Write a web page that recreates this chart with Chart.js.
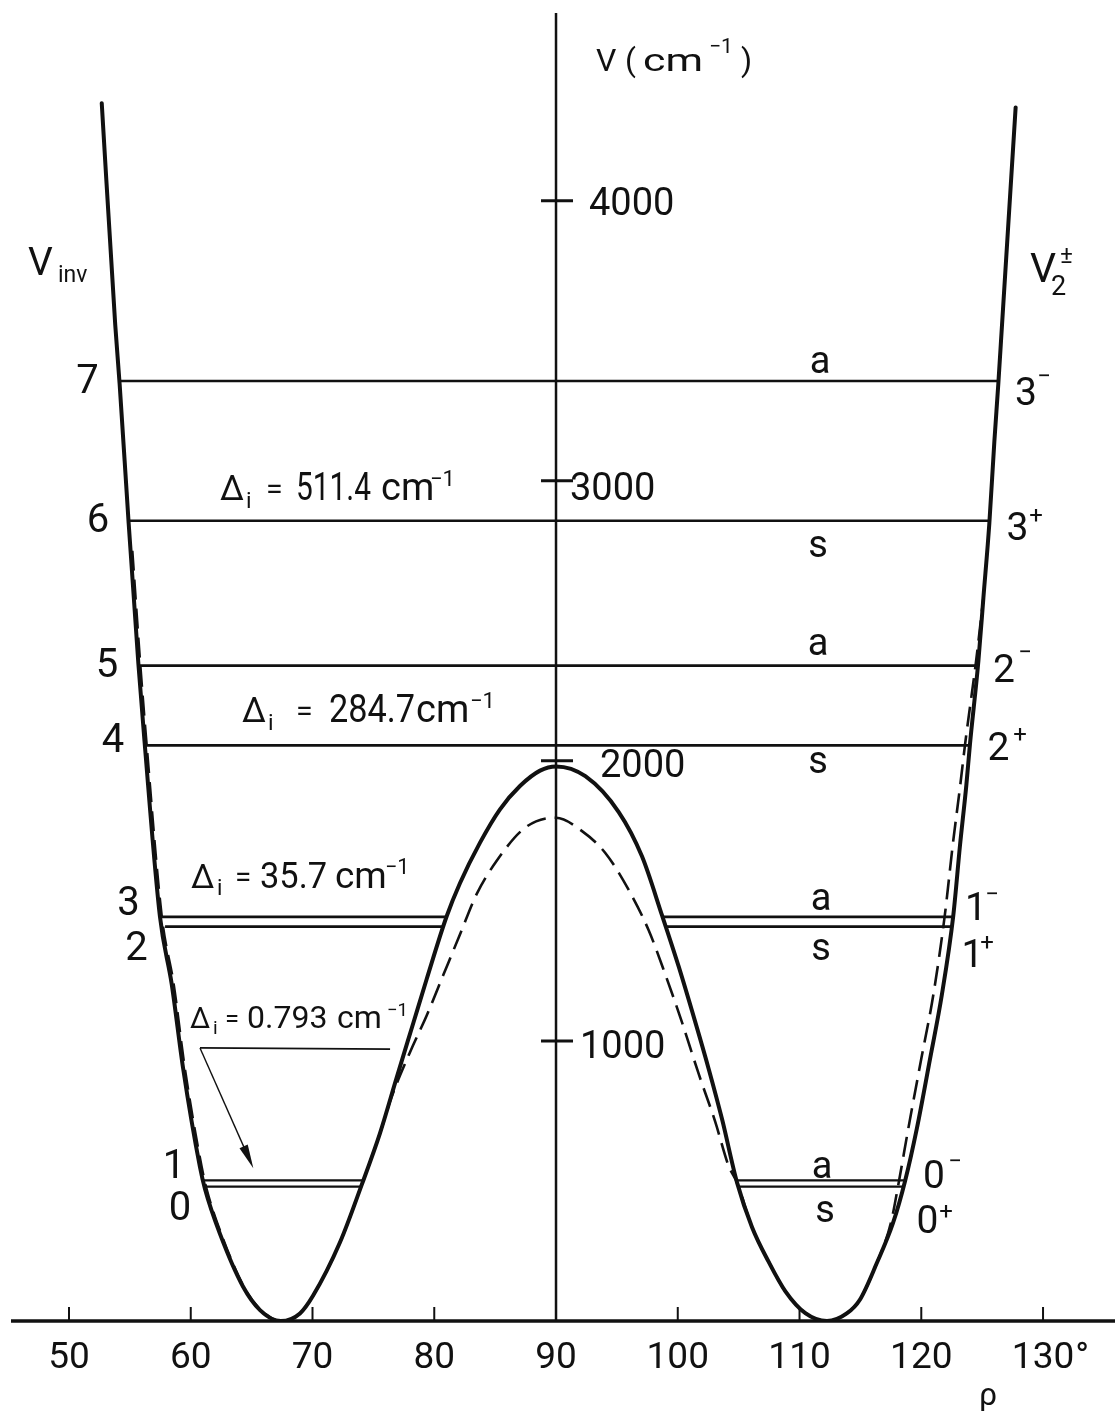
<!DOCTYPE html>
<html>
<head>
<meta charset="utf-8">
<title>Inversion potential V(rho)</title>
<script src="https://cdn.jsdelivr.net/npm/chart.js@4.4.1/dist/chart.umd.min.js"></script>
<style>
  html, body { margin: 0; padding: 0; background: #fff; }
  #wrap { position: relative; width: 1115px; height: 1414px; }
</style>
</head>
<body>
<div id="wrap"><canvas id="chart"></canvas></div>
<script>
// axes
const xTicks = [50, 60, 70, 80, 90, 100, 110, 120, 130];
const xTickLabels = ["50", "60", "70", "80", "90", "100", "110", "120", "130°"];
const yTicks = [1000, 2000, 3000, 4000];
const yTickLabels = ["1000", "2000", "3000", "4000"];

// solid curve, rho (deg) / V (cm-1)
const solidRho = [52.69, 53.8, 54.16, 54.9, 55.7, 56.2, 57.47, 58.44, 59.36, 60.76, 61.17, 62.4,
  64.29, 65.69, 67.4, 68.97, 70.04, 72.26, 74.04, 75.54, 76.92, 78.28, 79.38, 81.02, 82.11,
  83.76, 85.4, 87.04, 88.69, 90, 92.41, 95.15, 97.06, 98.71, 100.08, 101.44, 102.54, 103.64,
  104.87, 106.1, 107.47, 108.84, 110.48, 112.25, 113.88, 114.97, 116.34, 117.68, 118.67,
  119.63, 120.72, 121.68, 122.63, 123.18, 123.7, 124.0, 124.69, 125.1, 125.59, 126.0,
  126.33, 126.63, 127.75];
const solidV = [4348, 3556, 3345, 2849, 2346, 2071, 1444, 1202, 906, 549, 471, 311,
  123, 39, 0, 27, 90, 281, 486, 670, 870, 1064, 1221, 1445, 1563,
  1708, 1827, 1910, 1965, 1980, 1945, 1817, 1659, 1448, 1265, 1067, 900, 720,
  494, 335, 211, 106, 28, 0, 27, 77, 206, 350, 500,
  686, 936, 1162, 1448, 1698, 1913, 2060, 2356, 2581, 2848, 3139,
  3348, 3556, 4333];

// dashed curve
const dashedRho = [55.2, 55.85, 56.35, 57.62, 58.6, 59.5, 60.9, 61.3, 62.5, 64.35, 65.75, 67.4,
  68.97, 70.04, 72.26, 74.04, 75.54, 76.5, 78.0, 79.38, 80.74, 82.11, 83.49, 85.13, 87.31,
  89.24, 90, 92.14, 94.05, 95.97, 97.61, 98.98, 100.35, 101.72, 103.08, 104.18, 104.87,
  106.1, 107.47, 108.84, 110.48, 112.25, 113.88, 114.97, 116.34, 117.5, 118.17, 118.93,
  120.0, 120.98, 121.93, 122.58, 123.2, 123.6, 124.5, 125.1];
const dashedV = [2750, 2346, 2071, 1444, 1202, 906, 549, 471, 311, 123, 39, 0,
  27, 90, 281, 486, 670, 800, 959, 1091, 1235, 1380, 1525, 1643, 1756,
  1795, 1797, 1749, 1671, 1539, 1395, 1237, 1066, 882, 711, 553, 494,
  335, 211, 106, 28, 0, 27, 77, 206, 350, 500, 686,
  936, 1162, 1448, 1698, 1913, 2060, 2356, 2581];

// inversion levels
const levelNumbers = ["0", "1", "2", "3", "4", "5", "6", "7"];
const levelParity = ["0+", "0-", "1+", "1-", "2+", "2-", "3+", "3-"];
const levelSymmetry = ["s", "a", "s", "a", "s", "a", "s", "a"];
const levelV = [480, 502, 1408, 1443, 2055, 2340, 2857, 3356];
// where each level line meets the curve (rho)
const levelSegments = [
  [[61.17, 73.9], [105.03, 118.5]],
  [[61.0, 74.15], [104.92, 118.67]],
  [[57.89, 80.72], [99.03, 122.5]],
  [[57.47, 81.05], [98.68, 122.6]],
  [[56.2, 124.0]],
  [[55.7, 124.69]],
  [[54.9, 125.59]],
  [[54.16, 126.33]]
];
const splittingLabels = ["0.793", "35.7", "284.7", "511.4"];

// arrow from the 0.793 label down to the lowest pair
const leaderRho = [60.76, 76.37];
const leaderV = [975, 971];
const arrowTip = [65.14, 545];

const INK = "#111";
const FACE = "Roboto, 'Liberation Sans', sans-serif";

// label placement (pixels)
const leftNumPos = [[180, 1220], [174, 1178], [136.5, 960], [128.5, 915], [113, 752], [107, 677], [98, 532], [87.5, 393]];
const rightNumPos = [[927.5, 1233, 946, 1219], [934, 1188, 955, 1169], [972.5, 967, 987, 950], [976, 920, 992, 902],
  [998.5, 760, 1020, 742], [1004, 682, 1025, 660], [1017.5, 540, 1036, 523], [1026, 405, 1044, 384]];
const symPos = [[825, 1222], [822, 1178], [821, 960], [821, 910], [818, 773], [818, 655], [818, 557], [820, 373]];
const yLabelDx = [24, 44, 14, 33];
const yLabelDy = [17, 16, 19, 14];
// splitting labels: [x of delta, baseline, size, x of i, x of =, x of number, width, x of cm, x of -1]
const splitPos = [
  [190, 1028, 32, 213, 225, 247, 85, 337, 387],
  [191, 888, 37, 217, 235, 260, 67, 335, 385],
  [242, 722, 38, 268, 296, 329, 86, 416, 470],
  [220, 500, 38, 246, 266, 296, 75, 381, 430]
];

function put(ctx, t, x, y, size, opts) {
  opts = opts || {};
  ctx.font = `400 ${size}px ${FACE}`;
  ctx.textAlign = opts.align || "left";
  ctx.textBaseline = "alphabetic";
  if (opts.fit) {
    const w = ctx.measureText(t).width;
    ctx.save();
    ctx.translate(x, y);
    ctx.scale(opts.fit / w, 1);
    ctx.fillText(t, 0, 0);
    ctx.restore();
  } else if (opts.w) {
    ctx.fillText(t, x, y, opts.w);
  } else {
    ctx.fillText(t, x, y);
  }
}

const paper = {
  id: "paper",
  beforeDraw(chart) {
    const ctx = chart.ctx;
    ctx.save();
    ctx.fillStyle = "#fff";
    ctx.fillRect(0, 0, chart.width, chart.height);
    ctx.restore();
  },
  beforeDatasetsDraw(chart) {
    const { ctx, chartArea, scales: { x, y } } = chart;
    const x0 = x.getPixelForValue(90);
    const y0 = y.getPixelForValue(0);
    ctx.save();
    ctx.strokeStyle = INK;

    // vertical V axis at 90 deg
    ctx.lineWidth = 2.5;
    ctx.beginPath();
    ctx.moveTo(x0, chartArea.top);
    ctx.lineTo(x0, y0);
    ctx.stroke();

    // baseline
    ctx.lineWidth = 3.5;
    ctx.beginPath();
    ctx.moveTo(11, y0);
    ctx.lineTo(chart.width, y0);
    ctx.stroke();

    // rho ticks point up
    ctx.lineWidth = 2;
    xTicks.forEach((v) => {
      const px = x.getPixelForValue(v);
      ctx.beginPath();
      ctx.moveTo(px, y0);
      ctx.lineTo(px, y0 - 14);
      ctx.stroke();
    });

    // V ticks across the axis
    ctx.lineWidth = 3;
    yTicks.forEach((v) => {
      const py = y.getPixelForValue(v);
      ctx.beginPath();
      ctx.moveTo(x0 - 15, py);
      ctx.lineTo(x0 + 17, py);
      ctx.stroke();
    });
    ctx.restore();
  },
  afterDatasetsDraw(chart) {
    const { ctx, scales: { x, y } } = chart;
    const x0 = x.getPixelForValue(90);
    const y0 = y.getPixelForValue(0);
    ctx.save();
    ctx.fillStyle = INK;
    ctx.strokeStyle = INK;

    // tick labels
    xTicks.forEach((v, i) => {
      const lab = xTickLabels[i];
      const num = lab.replace("°", "");
      const px = x.getPixelForValue(v);
      put(ctx, num, px, y0 + 47, 37, { align: "center" });
      if (num !== lab) {
        ctx.font = `400 37px ${FACE}`;
        const w = ctx.measureText(num).width;
        put(ctx, "°", px + w / 2 + 1, y0 + 47, 37);
      }
    });
    yTicks.forEach((v, i) => {
      put(ctx, yTickLabels[i], x0 + yLabelDx[i], y.getPixelForValue(v) + yLabelDy[i], 38);
    });

    // axis titles
    put(ctx, "V", 596, 71, 32);
    put(ctx, "(", 625, 71, 32);
    put(ctx, "cm", 643, 71, 32, { fit: 60 });
    put(ctx, "−1", 709, 53, 21);
    put(ctx, ")", 741, 71, 32);
    put(ctx, "ρ", 979, 1405, 32);
    put(ctx, "V", 28, 275, 39);
    put(ctx, "inv", 58, 282, 23);
    put(ctx, "V", 1030, 282, 41);
    put(ctx, "2", 1051, 295, 27);
    put(ctx, "±", 1060, 263, 24);

    // level labels
    levelNumbers.forEach((n, i) => {
      put(ctx, n, leftNumPos[i][0], leftNumPos[i][1], 40, { align: "center" });
      const r = rightNumPos[i];
      put(ctx, levelParity[i][0], r[0], r[1], 39, { align: "center" });
      put(ctx, levelParity[i][1] === "-" ? "−" : "+", r[2], r[3], 24, { align: "center" });
      put(ctx, levelSymmetry[i], symPos[i][0], symPos[i][1], 38, { align: "center" });
    });

    // splittings
    splittingLabels.forEach((s, i) => {
      const p = splitPos[i];
      const big = p[2];
      put(ctx, "Δ", p[0], p[1], big * 0.9);
      put(ctx, "i", p[3], p[1] + big * 0.2, big * 0.6);
      put(ctx, "=", p[4], p[1] - 1, big * 0.8);
      put(ctx, s, p[5], p[1], big, { w: p[6] });
      put(ctx, "cm", p[7], p[1], big);
      put(ctx, "−1", p[8], p[1] - big * 0.37, big * 0.58);
    });

    // leader and arrow
    const ax = x.getPixelForValue(leaderRho[0]);
    const ay = y.getPixelForValue(leaderV[0]);
    ctx.lineWidth = 1.8;
    ctx.beginPath();
    ctx.moveTo(ax, ay);
    ctx.lineTo(x.getPixelForValue(leaderRho[1]), y.getPixelForValue(leaderV[1]));
    ctx.stroke();
    const tx = x.getPixelForValue(arrowTip[0]);
    const ty = y.getPixelForValue(arrowTip[1]);
    const ang = Math.atan2(ty - ay, tx - ax);
    const c = Math.cos(ang), sn = Math.sin(ang);
    ctx.lineWidth = 1.4;
    ctx.beginPath();
    ctx.moveTo(ax, ay);
    ctx.lineTo(tx - 18 * c, ty - 18 * sn);
    ctx.stroke();
    ctx.beginPath();
    ctx.moveTo(tx, ty);
    ctx.lineTo(tx - 24 * c + 4.5 * sn, ty - 24 * sn - 4.5 * c);
    ctx.lineTo(tx - 24 * c - 4.5 * sn, ty - 24 * sn + 4.5 * c);
    ctx.closePath();
    ctx.fill();
    ctx.restore();
  }
};

// level lines: one dataset per level, gaps between the wells
const levelSets = levelV.map((v, i) => {
  const pts = [];
  levelSegments[i].forEach((seg, k) => {
    if (k > 0) pts.push({ x: 90, y: null });
    pts.push({ x: seg[0], y: v }, { x: seg[1], y: v });
  });
  return {
    data: pts,
    borderColor: INK,
    borderWidth: i < 2 ? 2.2 : 2.6,
    pointRadius: 0,
    spanGaps: false,
    tension: 0
  };
});

new Chart(document.getElementById("chart"), {
  type: "line",
  data: {
    datasets: [
      ...levelSets,
      {
        data: dashedRho.map((r, i) => ({ x: r, y: dashedV[i] })),
        borderColor: INK,
        borderWidth: 2.6,
        borderDash: [20, 9],
        pointRadius: 0,
        cubicInterpolationMode: "monotone"
      },
      {
        data: solidRho.map((r, i) => ({ x: r, y: solidV[i] })),
        borderColor: INK,
        borderWidth: 4,
        borderCapStyle: "round",
        borderJoinStyle: "round",
        pointRadius: 0,
        cubicInterpolationMode: "monotone"
      }
    ]
  },
  options: {
    responsive: true,
    maintainAspectRatio: false,
    animation: false,
    layout: { padding: { left: 10, right: 5, top: 13, bottom: 93 } },
    plugins: { legend: { display: false }, tooltip: { enabled: false } },
    scales: {
      x: { type: "linear", min: 45.155, max: 135.5, display: false },
      y: { type: "linear", min: 0, max: 4670, display: false }
    }
  },
  plugins: [paper]
});
</script>
</body>
</html>
